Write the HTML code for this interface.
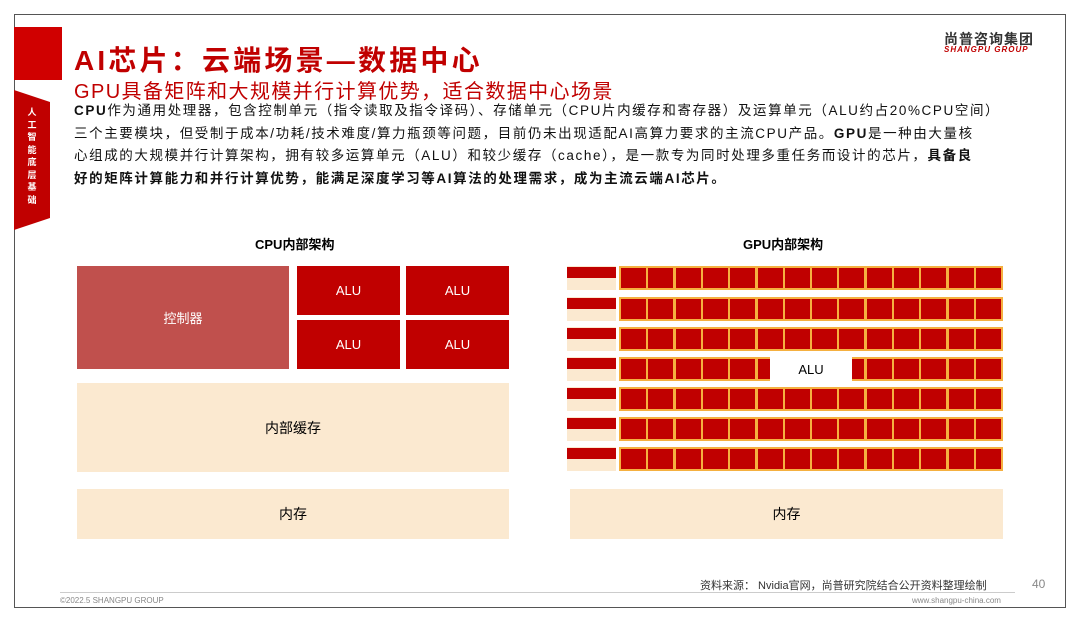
<!DOCTYPE html>
<html><head><meta charset="utf-8"><style>
*{margin:0;padding:0;box-sizing:border-box}
body{width:1080px;height:623px;background:#fff;position:relative;overflow:hidden;font-family:"Liberation Sans","Noto Sans CJK SC",sans-serif}
.a{position:absolute}
.frame{left:14px;top:14px;width:1052px;height:594px;border:1.5px solid #555}
.txt{font-size:13.5px;color:#111;line-height:22.5px;white-space:nowrap;letter-spacing:1.6px}
.b{font-weight:bold}
.beige{background:#fbe9d0}
.red{background:#c00000;color:#fff;font-size:13px;display:flex;align-items:center;justify-content:center}
</style></head><body>
<div class="a frame"></div>
<div class="a" style="left:14px;top:27px;width:48px;height:53px;background:#d00000"></div>
<svg class="a" style="left:14px;top:90px" width="40" height="142"><polygon points="0,0 36,12 36,128 0,140" fill="#c00000"/></svg>
<div class="a" style="left:24px;top:106px;width:16px;color:#fff;font-size:9px;line-height:12.5px;text-align:center;font-weight:bold">人<br>工<br>智<br>能<br>底<br>层<br>基<br>础</div>
<div class="a" style="left:74px;top:39px;font-size:28px;color:#c00000;font-weight:bold;letter-spacing:3.2px">AI芯片：云端场景—数据中心</div>
<div class="a" style="left:74px;top:75px;font-size:20px;color:#c00000;letter-spacing:1.4px">GPU具备矩阵和大规模并行计算优势，适合数据中心场景</div>
<div class="a" style="left:944px;top:29px;font-size:14px;font-weight:bold;color:#333;letter-spacing:1px">尚普咨询集团</div>
<div class="a" style="left:944px;top:45px;font-size:8px;font-weight:bold;font-style:italic;color:#c00000;letter-spacing:1px">SHANGPU GROUP</div>
<div class="a txt" style="left:74px;top:100px"><span class="b">CPU</span>作为通用处理器，包含控制单元（指令读取及指令译码）、存储单元（CPU片内缓存和寄存器）及运算单元（ALU约占20%CPU空间）<br>三个主要模块，但受制于成本/功耗/技术难度/算力瓶颈等问题，目前仍未出现适配AI高算力要求的主流CPU产品。<span class="b">GPU</span>是一种由大量核<br>心组成的大规模并行计算架构，拥有较多运算单元（ALU）和较少缓存（cache），是一款专为同时处理多重任务而设计的芯片，<span class="b">具备良<br>好的矩阵计算能力和并行计算优势，能满足深度学习等AI算法的处理需求，成为主流云端AI芯片。</span></div>
<div class="a b" style="left:255px;top:234px;font-size:13px">CPU内部架构</div>
<div class="a b" style="left:743px;top:234px;font-size:13px">GPU内部架构</div>
<div class="a red" style="left:77px;top:266px;width:212px;height:103px;background:#c0504d">控制器</div>
<div class="a red" style="left:297px;top:266px;width:103px;height:49px">ALU</div>
<div class="a red" style="left:406px;top:266px;width:103px;height:49px">ALU</div>
<div class="a red" style="left:297px;top:320px;width:103px;height:49px">ALU</div>
<div class="a red" style="left:406px;top:320px;width:103px;height:49px">ALU</div>
<div class="a beige" style="left:77px;top:383px;width:432px;height:89px;display:flex;align-items:center;justify-content:center;font-size:14px">内部缓存</div>
<div class="a beige" style="left:77px;top:489px;width:432px;height:50px;display:flex;align-items:center;justify-content:center;font-size:14px">内存</div>
<div class="a beige" style="left:570px;top:489px;width:433px;height:50px;display:flex;align-items:center;justify-content:center;font-size:14px">内存</div>
<div id="g"></div>
<div class="a" style="left:770px;top:357px;width:82px;height:24px;background:#fff;display:flex;align-items:center;justify-content:center;font-size:13px;z-index:2">ALU</div>
<div class="a" style="left:60px;top:592px;width:955px;height:1px;background:#ccc"></div>
<div class="a" style="left:700px;top:577px;font-size:11px;color:#333">资料来源：  Nvidia官网，尚普研究院结合公开资料整理绘制</div>
<div class="a" style="left:1032px;top:577px;font-size:12px;color:#888">40</div>
<div class="a" style="left:60px;top:596px;font-size:8px;color:#888">©2022.5 SHANGPU GROUP</div>
<div class="a" style="left:912px;top:596px;font-size:8px;color:#888">www.shangpu-china.com</div>
<script>
var g=document.getElementById('g'),h='';
var ys=[266,297,327,357,387,417,447];
ys.forEach(function(y){
 h+='<div class="a beige" style="left:567px;top:'+y+'px;width:49px;height:24px"></div>';
 h+='<div class="a" style="left:567px;top:'+(y+1)+'px;width:49px;height:11px;background:#c00000"></div>';
 h+='<div class="a" style="left:619px;top:'+y+'px;width:384px;height:24px;background:#f5b040"></div>';
 for(var i=0;i<14;i++){h+='<div class="a" style="left:'+(621+i*27.3)+'px;top:'+(y+2)+'px;width:25px;height:20px;background:#c00000"></div>';}
});
g.innerHTML=h;
</script>
</body></html>
